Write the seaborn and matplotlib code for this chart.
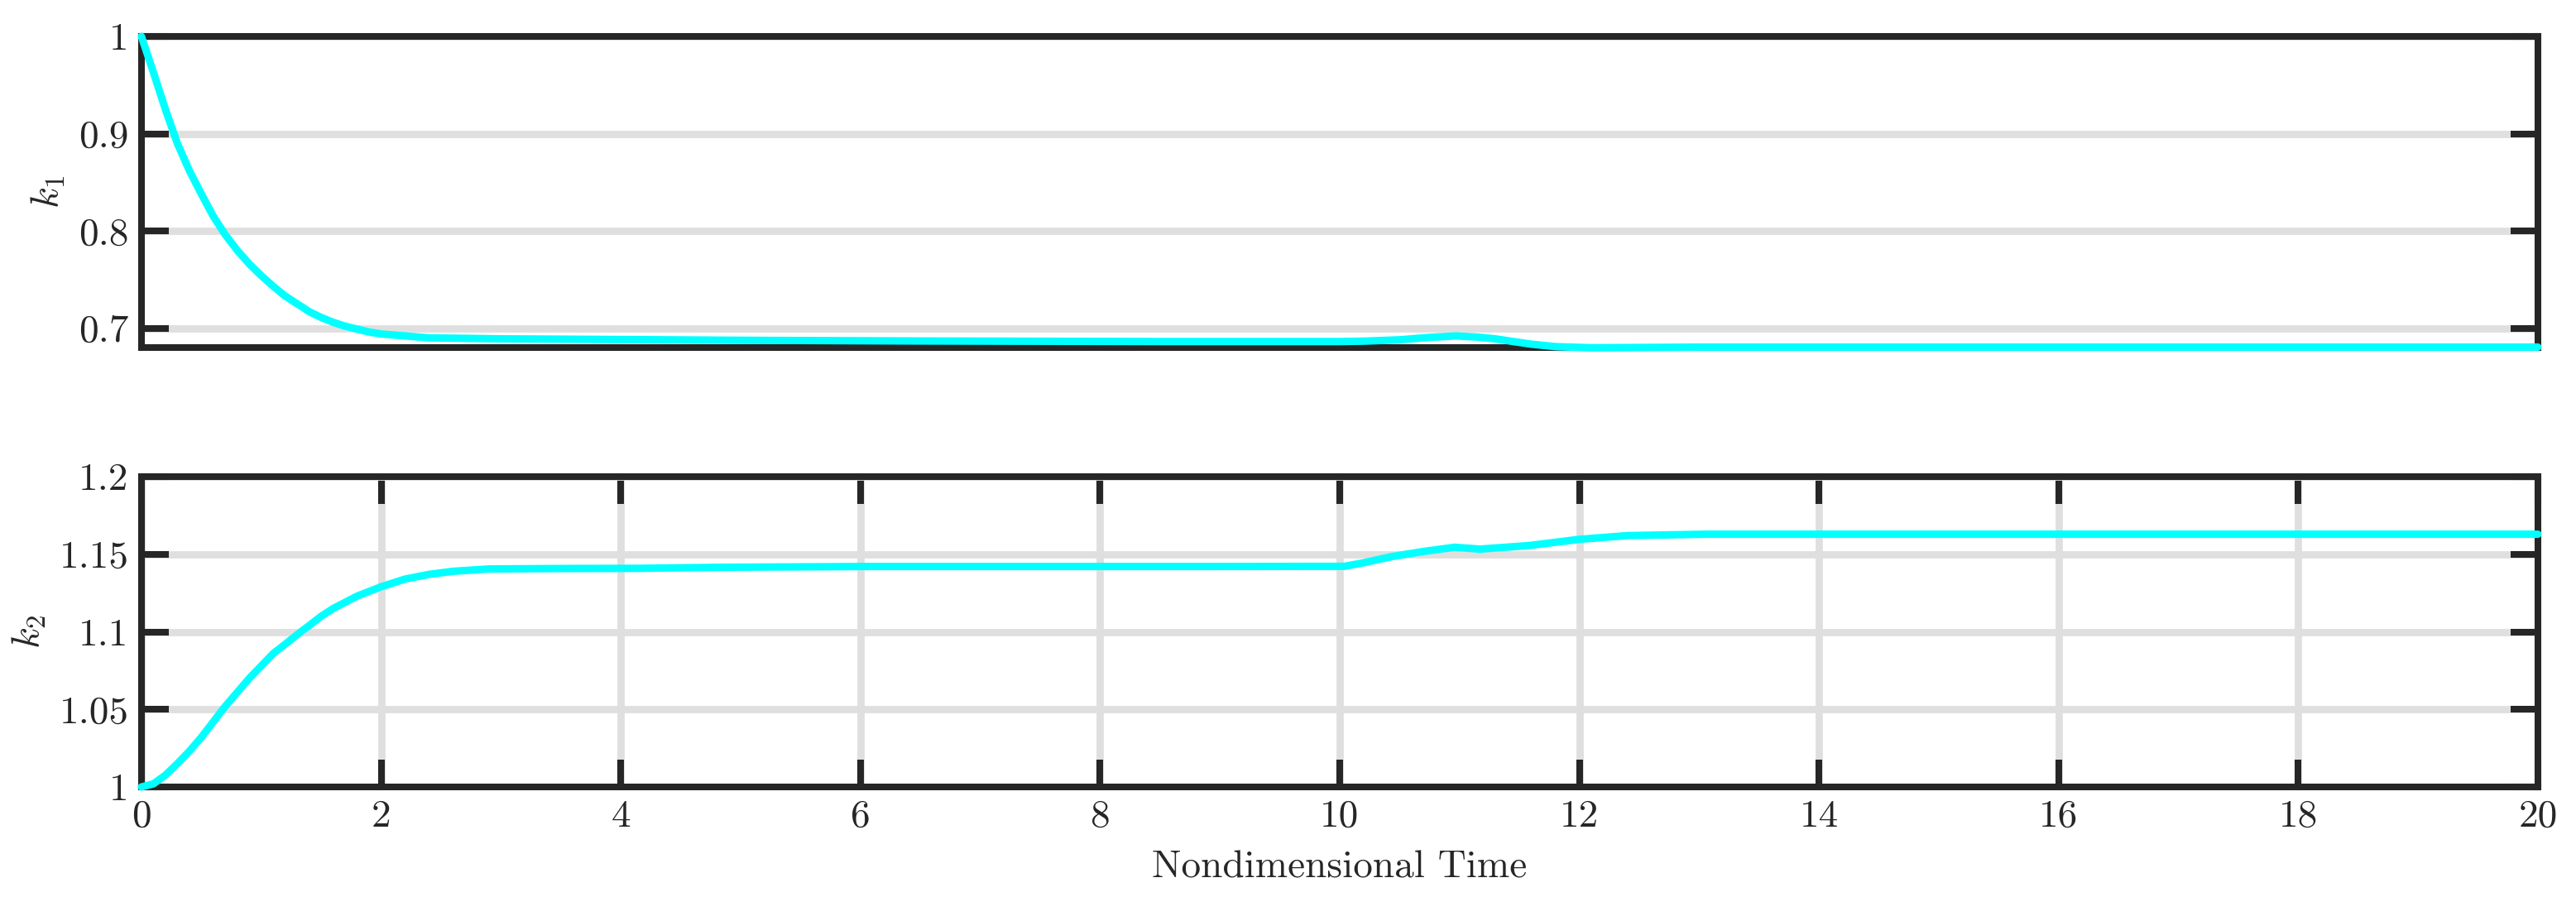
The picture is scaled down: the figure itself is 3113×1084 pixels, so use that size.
"""Gain histories k1 and k2 over nondimensional time"""
import matplotlib

matplotlib.use("Agg")
from matplotlib import pyplot as plt
from pandas import DataFrame
import seaborn as sns

# values
t_k1 = [0.0, 0.1, 0.2, 0.3, 0.4, 0.5, 0.6, 0.7, 0.8, 0.9, 1.0, 1.1, 1.2, 1.3,
        1.4, 1.5, 1.6, 1.7, 1.8, 1.9, 2.0, 2.2, 2.4, 2.7, 3.0, 3.7, 5.0, 6.5,
        8.5, 10.0, 10.2, 10.5, 10.75, 10.97, 11.15, 11.3, 11.45, 11.6, 11.8,
        12.1, 12.4, 13.0, 20.0]
k1 = [1.0, 0.963, 0.925, 0.890, 0.862, 0.838, 0.815, 0.796, 0.780, 0.766,
      0.754, 0.743, 0.733, 0.725, 0.717, 0.711, 0.706, 0.702, 0.699, 0.696,
      0.694, 0.692, 0.690, 0.6895, 0.689, 0.6885, 0.6875, 0.6868, 0.6862,
      0.6862, 0.6866, 0.688, 0.6905, 0.692, 0.6908, 0.689, 0.6862, 0.6835,
      0.681, 0.6798, 0.680, 0.6805, 0.6805]

t_k2 = [0.0, 0.1, 0.2, 0.3, 0.4, 0.5, 0.6, 0.7, 0.8, 0.9, 1.0, 1.1, 1.2, 1.33,
        1.4, 1.5, 1.6, 1.7, 1.8, 1.9, 2.0, 2.2, 2.4, 2.6, 2.9, 3.5, 4.14, 4.86,
        6.07, 9.0, 10.04, 10.2, 10.43, 10.7, 10.96, 11.17, 11.58, 12.0, 12.4,
        12.61, 13.06, 20.0]
k2 = [1.0, 1.002, 1.0076, 1.015, 1.023, 1.032, 1.042, 1.052, 1.061, 1.070,
      1.078, 1.086, 1.092, 1.100, 1.104, 1.110, 1.115, 1.119, 1.123, 1.126,
      1.129, 1.134, 1.137, 1.139, 1.1405, 1.1408, 1.1409, 1.1416, 1.1421,
      1.1421, 1.1422, 1.1445, 1.1484, 1.1518, 1.1545, 1.1533, 1.1556, 1.1596,
      1.1620, 1.1623, 1.1629, 1.1629]

x_ticks = list(range(0, 21, 2))
k1_ticks = [0.7, 0.8, 0.9, 1.0]
k2_ticks = [1.0, 1.05, 1.1, 1.15, 1.2]

INK = "#262626"
GRID = "#dfdfdf"

sns.set_theme(style="ticks")
plt.rcParams["font.family"] = ["cmr10", "DejaVu Serif"]
plt.rcParams["mathtext.fontset"] = "cm"
plt.rcParams["axes.formatter.use_mathtext"] = True

fig = plt.figure(figsize=(31.13, 10.84), dpi=100)
ax1 = fig.add_axes([0.0549, 0.6125, 0.9303, 0.3469])
ax2 = fig.add_axes([0.0549, 0.1227, 0.9303, 0.3459])


def style(ax, yticks, ylim, label):
    ax.set_xlim(0, 20)
    ax.set_ylim(*ylim)
    ax.set_yticks(yticks)
    ax.set_yticklabels([f"{v:g}" for v in yticks])
    for s in ax.spines.values():
        s.set_visible(True)
        s.set_linewidth(5.8)
        s.set_color(INK)
    ax.tick_params(direction="in", length=24, width=5.8, color=INK,
                   labelsize=34, labelcolor=INK, pad=11,
                   left=True, right=True, top=True, bottom=True)
    ax.grid(axis="y", color=GRID, linewidth=6.3)
    ax.set_ylabel(label, fontsize=34, color=INK, labelpad=10)


df1 = DataFrame({"t": t_k1, "k": k1})
df2 = DataFrame({"t": t_k2, "k": k2})

sns.lineplot(data=df1, x="t", y="k", ax=ax1, color="#00ffff", linewidth=6.5,
             zorder=4, clip_on=False)
sns.lineplot(data=df2, x="t", y="k", ax=ax2, color="#00ffff", linewidth=6.5,
             zorder=4, clip_on=False)

style(ax1, k1_ticks, (0.68, 1.0), "$k_1$")
ax1.set_xticks([])
ax1.set_xlabel("")

style(ax2, k2_ticks, (1.0, 1.2), "$k_2$")
ax2.set_xticks(x_ticks)
ax2.set_xticklabels([str(v) for v in x_ticks])
ax2.grid(axis="x", color=GRID, linewidth=6.3)
ax2.set_xlabel("Nondimensional Time", fontsize=34, color=INK, labelpad=14)

fig.savefig("out.png", dpi=100, facecolor="white")
